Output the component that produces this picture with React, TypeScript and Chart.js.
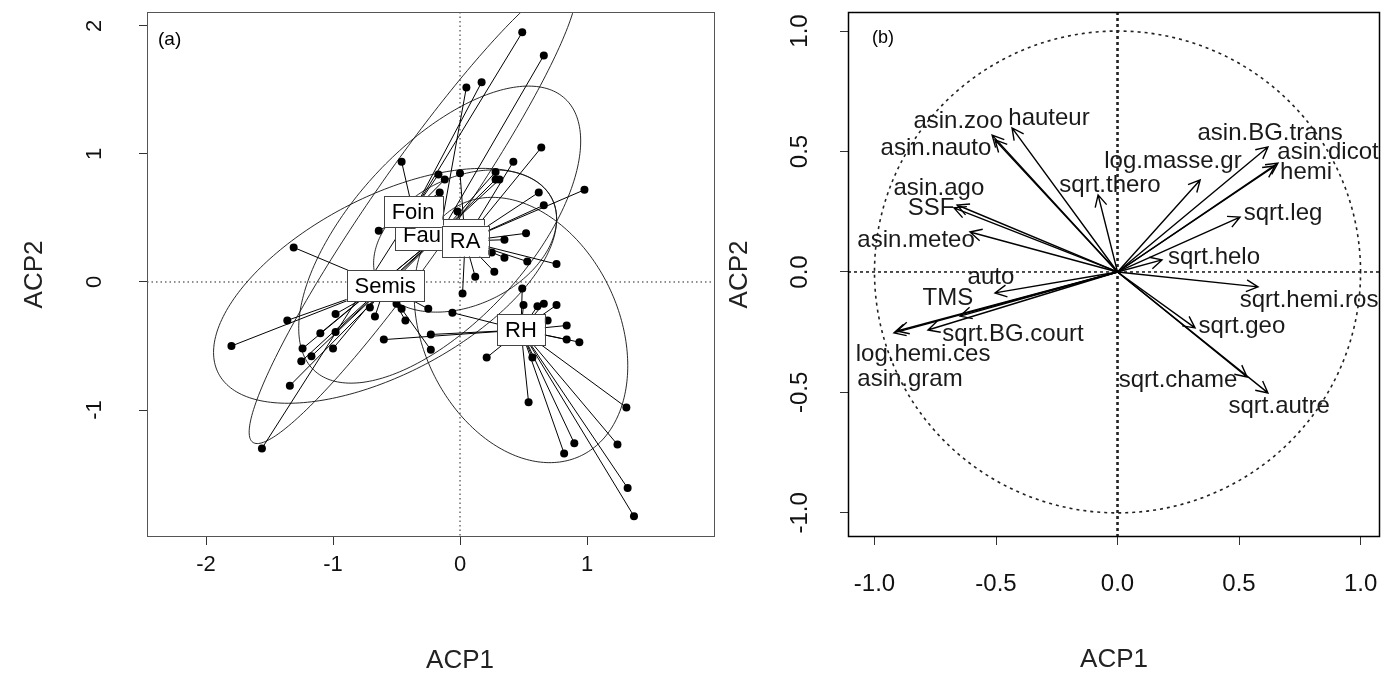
import React, { useEffect, useRef } from "react";
import { Chart, registerables } from "chart.js";
Chart.register(...registerables);

const FONT = "'Liberation Sans', Arial, sans-serif";

// ---------- Panel (a) data ----------
const groupNames = ["Fauche", "Foin", "RA", "RH", "Semis"];
const groupCX = [-0.16, -0.37, 0.04, 0.48, -0.59];
const groupCY = [0.37, 0.55, 0.32, -0.375, -0.03];
const ellipseMajor = [1.45, 2.2, 0.76, 1.09, 1.48];
const ellipseMinor = [0.69, 0.33, 0.5, 0.77, 0.69];
const ellipseAngle = [47, 55, 25, -64, 27.5];

const faucheX = [0.66, 0.05, 0.28, 0.31, 0.28, -1.24, -1.17, -1.25, -1.1, -1.34];
const faucheY = [1.77, 1.52, 0.86, 0.8, 0.8, -0.52, -0.58, -0.62, -0.4, -0.81];
const foinX = [0.49, -0.46, -1.56, -0.64, -0.17, -0.16, 0.17, -0.12];
const foinY = [1.95, 0.94, -1.3, 0.4, 0.84, 0.7, 1.56, 0.8];
const raX = [0.52, 0.35, 0.25, 0.35, 0.53, 0.76, 0.98, 0.62, 0.66, -0.02, 0.64, 0.42, 0.0, 0.12, 0.27, 0.02];
const raY = [0.38, 0.33, 0.23, 0.19, 0.16, 0.14, 0.72, 0.7, 0.6, 0.55, 1.05, 0.94, 0.85, 0.04, 0.08, -0.09];
const rhX = [0.49, 0.5, 0.61, 0.66, 0.76, 0.69, 0.84, 0.84, 0.94, 0.21, 0.57, 0.54, 1.31, 0.9, 1.24, 0.82, 1.32, 1.37, -0.6, -0.23, -0.06];
const rhY = [-0.05, -0.18, -0.19, -0.17, -0.18, -0.3, -0.34, -0.45, -0.47, -0.59, -0.59, -0.94, -0.98, -1.26, -1.27, -1.34, -1.61, -1.83, -0.45, -0.41, -0.24];
const semisX = [-1.31, -1.8, -1.36, -0.98, -0.98, -1.0, -0.71, -0.67, -0.5, -0.46, -0.43, -0.25, -0.23];
const semisY = [0.27, -0.5, -0.3, -0.25, -0.39, -0.52, -0.2, -0.27, -0.17, -0.21, -0.3, -0.21, -0.53];

const groupXs = [faucheX, foinX, raX, rhX, semisX];
const groupYs = [faucheY, foinY, raY, rhY, semisY];

const ticksAX = [-2, -1, 0, 1];
const ticksAY = [-1, 0, 1, 2];

// ---------- Panel (b) data ----------
const varNames = [
  "asin.zoo", "asin.nauto", "hauteur", "sqrt.thero", "asin.ago", "SSF", "asin.meteo",
  "auto", "TMS", "sqrt.BG.court", "log.hemi.ces", "asin.gram",
  "log.masse.gr", "asin.BG.trans", "asin.dicot", "hemi", "sqrt.leg", "sqrt.helo",
  "sqrt.hemi.ros", "sqrt.geo", "sqrt.chame", "sqrt.autre",
];
const loadX = [-0.516, -0.504, -0.434, -0.08, -0.66, -0.673, -0.607, -0.504, -0.648, -0.78, -0.92, -0.907, 0.34, 0.619, 0.66, 0.648, 0.504, 0.183, 0.578, 0.319, 0.533, 0.619];
const loadY = [0.568, 0.548, 0.598, 0.32, 0.278, 0.266, 0.166, -0.087, -0.183, -0.241, -0.253, -0.245, 0.382, 0.519, 0.452, 0.44, 0.228, 0.05, -0.062, -0.232, -0.436, -0.502];
const labelX = [-0.656, -0.747, -0.282, -0.031, -0.735, -0.767, -0.829, -0.521, -0.698, -0.43, -0.8, -0.854, 0.228, 0.628, 0.866, 0.776, 0.681, 0.397, 0.788, 0.512, 0.249, 0.665];
const labelY = [0.627, 0.515, 0.639, 0.361, 0.349, 0.266, 0.133, -0.021, -0.108, -0.261, -0.344, -0.444, 0.461, 0.577, 0.498, 0.415, 0.245, 0.062, -0.116, -0.224, -0.448, -0.556];

const ticksB = [-1, -0.5, 0, 0.5, 1];

// ---------- helpers ----------
function drawYTickLabels(chart: any, offset: number, size: number, fmt: (v: number) => string) {
  const s = chart.scales.y;
  const ctx = chart.ctx;
  ctx.save();
  ctx.fillStyle = "#111";
  ctx.font = `${size}px ${FONT}`;
  ctx.textAlign = "center";
  ctx.textBaseline = "middle";
  s.ticks.forEach((t: any) => {
    const y = s.getPixelForValue(t.value);
    ctx.save();
    ctx.translate(chart.chartArea.left - offset, y);
    ctx.rotate(-Math.PI / 2);
    ctx.fillText(fmt(t.value), 0, 0);
    ctx.restore();
  });
  ctx.restore();
}

const plugA = {
  id: "panelA",
  beforeDatasetsDraw(chart: any) {
    const { ctx, chartArea: ca } = chart;
    const sx = chart.scales.x, sy = chart.scales.y;
    ctx.save();
    ctx.beginPath();
    ctx.rect(ca.left, ca.top, ca.right - ca.left, ca.bottom - ca.top);
    ctx.clip();
    ctx.strokeStyle = "#222";
    ctx.lineWidth = 1;
    ctx.setLineDash([1.5, 3]);
    const x0 = sx.getPixelForValue(0), y0 = sy.getPixelForValue(0);
    ctx.beginPath();
    ctx.moveTo(x0, ca.top); ctx.lineTo(x0, ca.bottom);
    ctx.moveTo(ca.left, y0); ctx.lineTo(ca.right, y0);
    ctx.stroke();
    ctx.setLineDash([]);
    ctx.strokeStyle = "#111";
    ctx.lineWidth = 0.9;
    groupNames.forEach((_, g) => {
      const th = (ellipseAngle[g] * Math.PI) / 180;
      const a = ellipseMajor[g], b = ellipseMinor[g];
      ctx.beginPath();
      for (let i = 0; i <= 240; i++) {
        const t = (i / 240) * Math.PI * 2;
        const ex = groupCX[g] + a * Math.cos(t) * Math.cos(th) - b * Math.sin(t) * Math.sin(th);
        const ey = groupCY[g] + a * Math.cos(t) * Math.sin(th) + b * Math.sin(t) * Math.cos(th);
        const px = sx.getPixelForValue(ex), py = sy.getPixelForValue(ey);
        if (i === 0) ctx.moveTo(px, py); else ctx.lineTo(px, py);
      }
      ctx.closePath();
      ctx.stroke();
    });
    ctx.lineWidth = 1;
    ctx.strokeStyle = "#000";
    groupNames.forEach((_, g) => {
      const cx = sx.getPixelForValue(groupCX[g]), cy = sy.getPixelForValue(groupCY[g]);
      ctx.beginPath();
      groupXs[g].forEach((x, j) => {
        ctx.moveTo(cx, cy);
        ctx.lineTo(sx.getPixelForValue(x), sy.getPixelForValue(groupYs[g][j]));
      });
      ctx.stroke();
    });
    ctx.restore();
  },
  afterDatasetsDraw(chart: any) {
    const { ctx, chartArea: ca } = chart;
    const sx = chart.scales.x, sy = chart.scales.y;
    ctx.save();
    ctx.font = `22px ${FONT}`;
    ctx.textAlign = "center";
    ctx.textBaseline = "middle";
    groupNames.forEach((name, g) => {
      const cx = sx.getPixelForValue(groupCX[g]), cy = sy.getPixelForValue(groupCY[g]);
      const w = ctx.measureText(name).width + 16, h = 31;
      ctx.fillStyle = "#fff";
      ctx.fillRect(cx - w / 2, cy - h / 2, w, h);
      ctx.strokeStyle = "#444";
      ctx.lineWidth = 1;
      ctx.strokeRect(Math.round(cx - w / 2) + 0.5, Math.round(cy - h / 2) + 0.5, Math.round(w), h);
      ctx.fillStyle = "#000";
      ctx.fillText(name, cx, cy + 1);
    });
    ctx.strokeStyle = "#555";
    ctx.lineWidth = 1;
    ctx.strokeRect(ca.left + 0.5, ca.top + 0.5, ca.right - ca.left - 1, ca.bottom - ca.top - 1);
    ctx.fillStyle = "#000";
    ctx.font = `19px ${FONT}`;
    ctx.textAlign = "left";
    ctx.fillText("(a)", ca.left + 11, ca.top + 28);
    // x axis title (offset as in the original figure)
    ctx.fillStyle = "#222";
    ctx.font = `26px ${FONT}`;
    ctx.textAlign = "center";
    ctx.fillText("ACP1", (ca.left + ca.right) / 2 + 29, 661);
    ctx.restore();
    drawYTickLabels(chart, 52, 22, (v) => String(v));
  },
};

function arrowHead(ctx: any, x0: number, y0: number, x1: number, y1: number) {
  const ang = Math.atan2(y1 - y0, x1 - x0);
  const L = 13, spread = (27 * Math.PI) / 180;
  ctx.moveTo(x1 - L * Math.cos(ang - spread), y1 - L * Math.sin(ang - spread));
  ctx.lineTo(x1, y1);
  ctx.lineTo(x1 - L * Math.cos(ang + spread), y1 - L * Math.sin(ang + spread));
}

const plugB = {
  id: "panelB",
  beforeDatasetsDraw(chart: any) {
    const { ctx, chartArea: ca } = chart;
    const sx = chart.scales.x, sy = chart.scales.y;
    ctx.save();
    ctx.beginPath();
    ctx.rect(ca.left, ca.top, ca.right - ca.left, ca.bottom - ca.top);
    ctx.clip();
    ctx.strokeStyle = "#222";
    ctx.lineWidth = 1.6;
    ctx.setLineDash([3, 4]);
    ctx.beginPath();
    for (let i = 0; i <= 360; i++) {
      const t = (i / 360) * Math.PI * 2;
      const px = sx.getPixelForValue(Math.cos(t)), py = sy.getPixelForValue(Math.sin(t));
      if (i === 0) ctx.moveTo(px, py); else ctx.lineTo(px, py);
    }
    ctx.stroke();
    const x0 = sx.getPixelForValue(0), y0 = sy.getPixelForValue(0);
    ctx.setLineDash([3, 3]);
    ctx.lineWidth = 1.6;
    ctx.beginPath();
    ctx.moveTo(ca.left, y0); ctx.lineTo(ca.right, y0);
    ctx.stroke();
    ctx.lineWidth = 2.6;
    ctx.beginPath();
    ctx.moveTo(x0, ca.top); ctx.lineTo(x0, ca.bottom);
    ctx.stroke();
    ctx.setLineDash([]);
    ctx.strokeStyle = "#000";
    ctx.lineWidth = 1.4;
    varNames.forEach((_, i) => {
      const px = sx.getPixelForValue(loadX[i]), py = sy.getPixelForValue(loadY[i]);
      ctx.beginPath();
      ctx.moveTo(x0, y0);
      ctx.lineTo(px, py);
      arrowHead(ctx, x0, y0, px, py);
      ctx.stroke();
    });
    ctx.restore();
    ctx.save();
    ctx.fillStyle = "#1a1a1a";
    ctx.font = `24px ${FONT}`;
    ctx.textAlign = "center";
    ctx.textBaseline = "middle";
    varNames.forEach((n, i) => {
      ctx.fillText(n, sx.getPixelForValue(labelX[i]), sy.getPixelForValue(labelY[i]));
    });
    ctx.strokeStyle = "#000";
    ctx.lineWidth = 1.5;
    ctx.strokeRect(ca.left + 0.5, ca.top + 0.5, ca.right - ca.left - 1, ca.bottom - ca.top - 1);
    ctx.fillStyle = "#000";
    ctx.font = `18px ${FONT}`;
    ctx.textAlign = "left";
    ctx.fillText("(b)", ca.left + 24, ca.top + 26);
    ctx.restore();
    drawYTickLabels(chart, 48, 24, (v) => v.toFixed(1));
  },
};

function axisCommon(ticks: number[], fmt: (v: number) => string, size: number, pad: number) {
  return {
    type: "linear" as const,
    afterBuildTicks: (s: any) => {
      s.ticks = ticks.map((v) => ({ value: v }));
    },
    grid: { drawOnChartArea: false, drawTicks: true, tickLength: 8, color: "#333", lineWidth: 1 },
    border: { display: false },
    ticks: {
      autoSkip: false,
      maxRotation: 0,
      minRotation: 0,
      color: "#111",
      padding: pad,
      font: { family: FONT, size },
      callback: (v: any) => fmt(Number(v)),
    },
  };
}

function makeConfig(
  datasets: any[],
  xr: [number, number],
  yr: [number, number],
  xt: number[],
  yt: number[],
  fmt: (v: number) => string,
  tickSize: number,
  tickPad: number,
  yWidth: number,
  padRight: number,
  yTitlePad: number,
  showXTitle: boolean,
  plugin: any
): any {
  return {
    type: "scatter",
    data: { datasets },
    options: {
      animation: false,
      responsive: false,
      devicePixelRatio: 1,
      layout: { padding: { top: 12, right: padRight, left: 0, bottom: 0 } },
      plugins: { legend: { display: false }, tooltip: { enabled: false } },
      scales: {
        x: {
          ...axisCommon(xt, fmt, tickSize, tickPad),
          min: xr[0],
          max: xr[1],
          afterFit: (s: any) => {
            s.height = 137;
            s.paddingLeft = 0;
            s.paddingRight = 0;
          },
          title: {
            display: showXTitle,
            text: "ACP1",
            color: "#222",
            font: { family: FONT, size: 26, lineHeight: 1 },
            padding: { top: 0, bottom: 1 },
          },
        },
        y: {
          ...axisCommon(yt, fmt, tickSize, 0),
          min: yr[0],
          max: yr[1],
          ticks: { display: false },
          afterFit: (s: any) => {
            s.width = yWidth;
            s.paddingTop = 0;
            s.paddingBottom = 0;
          },
          title: {
            display: true,
            text: "ACP2",
            color: "#222",
            font: { family: FONT, size: 26, lineHeight: 1 },
            padding: { top: yTitlePad, bottom: 0 },
          },
        },
      },
    },
    plugins: [plugin],
  };
}

export default function App() {
  const refA = useRef<HTMLCanvasElement>(null);
  const refB = useRef<HTMLCanvasElement>(null);
  useEffect(() => {
    const dsA = groupNames.map((g, i) => ({
      label: g,
      data: groupXs[i].map((x, j) => ({ x, y: groupYs[i][j] })),
      pointRadius: 4,
      pointHoverRadius: 4,
      pointBackgroundColor: "#000",
      pointBorderWidth: 0,
      showLine: false,
    }));
    const dsB = [
      {
        label: "loadings",
        data: loadX.map((x, i) => ({ x, y: loadY[i] })),
        pointRadius: 0,
        showLine: false,
      },
    ];
    const a = new Chart(
      refA.current as HTMLCanvasElement,
      makeConfig(dsA, [-2.465, 2.008], [-1.992, 2.109], ticksAX, ticksAY, (v) => String(v), 22, 7, 147, 5, 22, false, plugA)
    );
    const b = new Chart(
      refB.current as HTMLCanvasElement,
      makeConfig(dsB, [-1.109, 1.08], [-1.1, 1.079], ticksB, ticksB, (v) => v.toFixed(1), 24, 25, 128, 9, 7, true, plugB)
    );
    return () => {
      a.destroy();
      b.destroy();
    };
  }, []);
  return (
    <div style={{ position: "fixed", left: 0, top: 0, width: 1389, height: 674, background: "#fff" }}>
      <canvas ref={refA} width={720} height={674} style={{ position: "absolute", left: 0, top: 0, width: 720, height: 674 }} />
      <canvas ref={refB} width={669} height={674} style={{ position: "absolute", left: 720, top: 0, width: 669, height: 674 }} />
    </div>
  );
}
